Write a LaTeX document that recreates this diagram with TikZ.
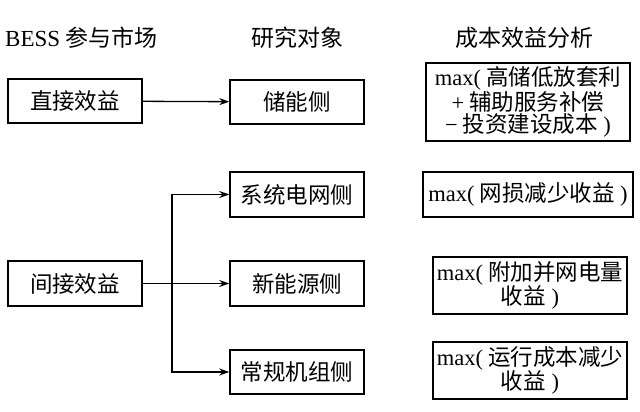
\documentclass[tikz,border=0pt]{standalone}
\usepackage{fontspec}
\setmainfont{Noto Sans CJK SC}
\newfontfamily\lat{Liberation Serif}
\usepackage{xcolor}
\usepackage{tikz}
\usetikzlibrary{arrows.meta,positioning}
\tikzset{
  >={Stealth[length=10pt,width=7pt]},
  box/.style={rectangle,draw,line width=1.5pt,inner sep=0pt,minimum width=134pt,minimum height=44pt,font=\fontsize{22.5}{22}\selectfont,align=center},
  costbox/.style={box,minimum height=57pt},
  header/.style={font=\fontsize{23}{24}\selectfont,inner sep=0pt},
  link/.style={->,line width=1.3pt}
}

\begin{document}
\begin{tikzpicture}[x=1pt,y=-1pt]
  \useasboundingbox (0,0) rectangle (640,412);
  % Headers
  \node[header,anchor=west] (hmarket) at (5,38) {{\lat BESS} 参与市场};
  \node[header] (hobject) at (297,38) {研究对象};
  \node[header] (hcost) at (524,38) {成本效益分析};

  % Market participation
  \node[box] (direct) at (75,101) {直接效益};
  \node[box,minimum height=45pt] (indirect) at (75,283.5) {间接效益};

  % Research objects
  \node[box] (storage) at (297,102) {储能侧};
  \node[box,minimum height=45pt] (grid) at (297,194.5) {系统电网侧};
  \node[box,minimum height=45pt] (renew) at (297,283.5) {新能源侧};
  \node[box] (conv) at (297,372) {常规机组侧};

  % Cost-benefit analysis
  \node[box,minimum width=204pt,minimum height=78pt] (cstorage) at (528,102)
    {{\lat max(} 高储低放套利\\{\lat +} 辅助服务补偿\\{\lat −} 投资建设成本{\lat\ )}};
  \node[box,minimum width=210pt,minimum height=45pt] (cgrid) at (528,194.5)
    {{\lat max(} 网损减少收益{\lat\ )}};
  \node[costbox,minimum width=194pt] (crenew) at (530,285.5)
    {{\lat max(} 附加并网电量\\收益{\lat\ )}};
  \node[costbox,minimum width=194pt] (cconv) at (530,370.5)
    {{\lat max(} 运行成本减少\\收益{\lat\ )}};

  % Arrows
  \coordinate (split) at (172,283.5);
  \draw[link] (direct) -- (storage);
  \draw[link] (indirect) -- (renew);
  \draw[link] (split) |- (grid.west);
  \draw[link] (split) |- (conv.west);
\end{tikzpicture}
\end{document}
